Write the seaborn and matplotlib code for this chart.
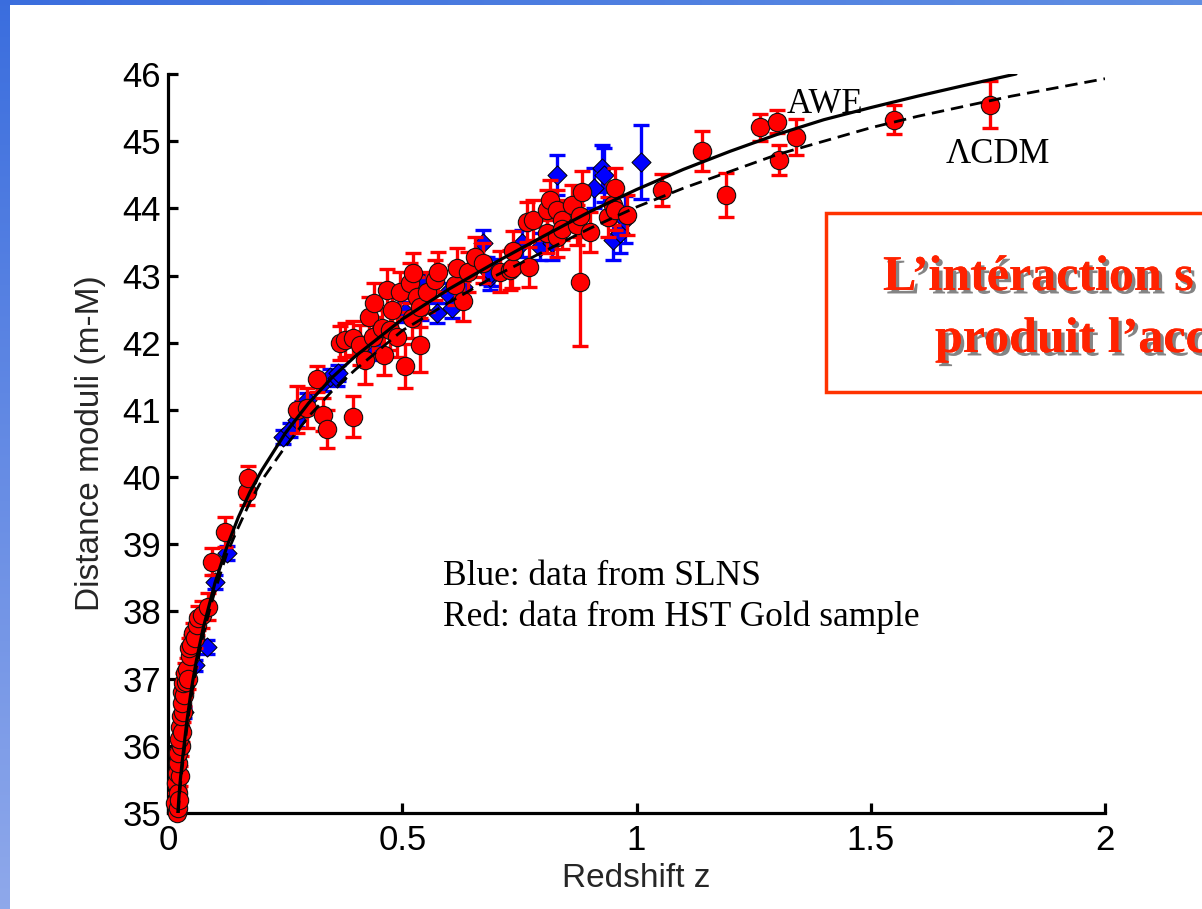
import numpy as np
import pandas as pd
import matplotlib
matplotlib.use("Agg")
import matplotlib.pyplot as plt
import matplotlib.patheffects as pe
from matplotlib.patches import Rectangle
import seaborn as sns

# ---------------- data ----------------
# AWE model (solid)
awe_z = [0.021, 0.025, 0.03, 0.04, 0.05, 0.06, 0.075, 0.09, 0.1, 0.125, 0.15, 0.175, 0.2, 0.25,
         0.3, 0.35, 0.4, 0.5, 0.6, 0.7, 0.8, 0.9, 1.0, 1.1, 1.2, 1.3, 1.4, 1.5, 1.6, 1.7, 1.81]
awe_mu = [35.0, 35.4, 35.75, 36.35, 36.85, 37.25, 37.75, 38.15, 38.42, 38.95, 39.4, 39.78, 40.1, 40.65,
          41.1, 41.48, 41.8, 42.35, 42.8, 43.2, 43.58, 43.95, 44.28, 44.58, 44.85, 45.1, 45.32, 45.5,
          45.67, 45.83, 46.0]

# LambdaCDM model (dashed)
lcdm_z = [0.022, 0.025, 0.03, 0.04, 0.05, 0.06, 0.075, 0.09, 0.1, 0.125, 0.15, 0.175, 0.2, 0.25,
          0.3, 0.35, 0.4, 0.5, 0.6, 0.7, 0.8, 0.9, 1.0, 1.1, 1.2, 1.3, 1.4, 1.5, 1.6, 1.7, 1.8, 1.9, 2.0]
lcdm_mu = [35.0, 35.3, 35.65, 36.25, 36.75, 37.15, 37.65, 38.05, 38.3, 38.85, 39.25, 39.63, 39.95, 40.45,
           40.9, 41.28, 41.6, 42.18, 42.6, 43.0, 43.35, 43.7, 44.02, 44.3, 44.55, 44.8, 45.0, 45.2,
           45.37, 45.52, 45.67, 45.8, 45.93]

# HST Gold sample (red)
red_z = [0.016, 0.018, 0.020, 0.021, 0.021, 0.019, 0.024, 0.025, 0.022, 0.021, 0.028, 0.023, 0.026,
         0.030, 0.027, 0.033, 0.030, 0.029, 0.035, 0.032, 0.038, 0.036, 0.040, 0.043, 0.047, 0.045,
         0.050, 0.053, 0.058, 0.062, 0.065, 0.072, 0.085, 0.094, 0.122, 0.169, 0.171,
         0.275, 0.296, 0.318, 0.331, 0.340, 0.395, 0.367, 0.378, 0.395, 0.410, 0.420, 0.430, 0.438,
         0.440, 0.457, 0.460, 0.467, 0.474, 0.478, 0.489, 0.495, 0.506, 0.516, 0.520, 0.523, 0.531,
         0.538, 0.538, 0.553, 0.570, 0.577, 0.613, 0.617, 0.630, 0.640, 0.655, 0.673, 0.709, 0.730,
         0.735, 0.737, 0.770, 0.766, 0.780, 0.810, 0.815, 0.810, 0.830, 0.830, 0.840, 0.840, 0.862,
         0.873, 0.879, 0.880, 0.884, 0.900, 0.940, 0.950, 0.954, 0.954, 0.980,
         1.054, 1.140, 1.190, 1.264, 1.300, 1.305, 1.340, 1.550, 1.755]
red_mu = [35.15, 35.45, 35.0, 35.07, 35.3, 35.6, 35.2, 35.55, 35.75, 35.9, 36.0, 36.1, 36.28,
          36.2, 36.45, 36.5, 36.64, 36.8, 36.75, 36.94, 36.95, 37.09, 37.15, 37.0, 37.33, 37.45,
          37.5, 37.68, 37.6, 37.8, 37.9, 37.95, 38.07, 38.74, 39.18, 39.78, 39.99,
          41.0, 41.03, 41.46, 40.93, 40.72, 40.9, 42.0, 42.04, 42.07, 41.97, 41.74, 42.38, 42.09,
          42.59, 42.22, 41.82, 42.79, 42.19, 42.49, 42.09, 42.76, 41.65, 42.89, 42.37, 43.04, 42.68,
          41.97, 42.53, 42.76, 42.93, 43.05, 42.86, 43.11, 42.62, 43.05, 43.28, 43.19, 43.06, 43.08,
          43.11, 43.36, 43.13, 43.8, 43.83, 43.98, 44.12, 43.63, 43.98, 43.57, 43.83, 43.7, 44.05,
          43.75, 42.9, 43.88, 44.25, 43.65, 43.87, 44.05, 44.3, 43.98, 43.9,
          44.27, 44.85, 44.2, 45.21, 45.29, 44.72, 45.06, 45.32, 45.54]
red_err = [0.15] * 30 + [0.18, 0.2, 0.2, 0.2, 0.22, 0.2, 0.18,
           0.35, 0.3, 0.2, 0.25, 0.28, 0.3, 0.25, 0.25, 0.25, 0.3, 0.35, 0.3, 0.3,
           0.3, 0.3, 0.3, 0.3, 0.3, 0.3, 0.3, 0.3, 0.33, 0.3, 0.3, 0.3, 0.3,
           0.4, 0.3, 0.3, 0.3, 0.3, 0.3, 0.3, 0.3, 0.3, 0.3, 0.3, 0.3, 0.3,
           0.3, 0.3, 0.3, 0.3, 0.3, 0.3, 0.3, 0.3, 0.3, 0.3, 0.3, 0.3, 0.3,
           0.3, 0.95, 0.3, 0.3, 0.3, 0.3, 0.3, 0.3, 0.3, 0.3,
           0.24, 0.3, 0.33, 0.2, 0.17, 0.22, 0.27, 0.22, 0.35]

# SNLS (blue)
blue_z = [0.035, 0.058, 0.083, 0.100, 0.126, 0.245, 0.260, 0.275, 0.286, 0.296, 0.331, 0.346, 0.360,
          0.363, 0.446, 0.506, 0.540, 0.545, 0.574, 0.595, 0.606, 0.630, 0.672, 0.680, 0.687, 0.690,
          0.755, 0.795, 0.820, 0.830, 0.910, 0.926, 0.930, 0.950, 0.965, 0.975, 1.010]
blue_mu = [36.5, 37.2, 37.47, 38.44, 38.87, 40.6, 40.7, 40.85, 41.04, 41.15, 41.4, 41.49, 41.47,
           41.55, 41.89, 42.46, 42.49, 42.89, 42.44, 42.74, 42.52, 42.83, 43.48, 43.08, 42.98, 43.04,
           43.48, 43.43, 43.48, 44.5, 44.3, 44.6, 44.5, 43.53, 43.63, 43.83, 44.69]
blue_err = [0.08, 0.08, 0.1, 0.1, 0.1, 0.1, 0.1, 0.1, 0.1, 0.1, 0.12, 0.12, 0.12,
            0.12, 0.15, 0.15, 0.15, 0.15, 0.15, 0.15, 0.15, 0.15, 0.2, 0.2, 0.2, 0.2,
            0.2, 0.2, 0.25, 0.3, 0.3, 0.35, 0.4, 0.3, 0.3, 0.35, 0.55]

x_ticks = [0, 0.5, 1, 1.5, 2]
x_ticklabels = ["0", "0.5", "1", "1.5", "2"]
y_ticks = list(range(35, 47))

# ---------------- styling ----------------
sns.set_style("ticks")
plt.rcParams['font.family'] = ['Liberation Sans', 'DejaVu Sans']

W, H = 1202, 909
fig = plt.figure(figsize=(W / 100, H / 100), dpi=100)
fig.patch.set_facecolor("white")

# slide frame (blue gradient border)
bg = fig.add_axes([0, 0, 1, 1], zorder=0)
img = np.ones((H, W, 3))
top_c0 = np.array([0.23, 0.43, 0.87]); top_c1 = np.array([0.38, 0.56, 0.89])
left_c1 = np.array([0.56, 0.66, 0.92])
tx = np.linspace(0, 1, W)[:, None]
img[:5, :, :] = (top_c0 * (1 - tx) + top_c1 * tx)[None, :, :]
ly = np.linspace(0, 1, H)[:, None]
img[:, :10, :] = (top_c0 * (1 - ly) + left_c1 * ly)[:, None, :]
bg.imshow(img, aspect="auto", extent=[0, 1, 0, 1])
bg.axis("off")

ax = fig.add_axes([168 / W, 1 - 813 / H, (1105 - 168) / W, (813 - 74) / H], zorder=1)
ax.set_facecolor("none")

red_df = pd.DataFrame({"z": red_z, "mu": red_mu, "err": red_err})
blue_df = pd.DataFrame({"z": blue_z, "mu": blue_mu, "err": blue_err})

# blue data
ax.errorbar(blue_df["z"], blue_df["mu"], yerr=blue_df["err"], fmt="none", ecolor="#0000ff",
            elinewidth=2.4, capsize=5.5, capthick=2.4, zorder=2)
sns.scatterplot(data=blue_df, x="z", y="mu", ax=ax, marker="D", s=95, color="#0000ff",
                edgecolor="black", linewidth=0.7, zorder=3, clip_on=False)
# red data
ax.errorbar(red_df["z"], red_df["mu"], yerr=red_df["err"], fmt="none", ecolor="#ff0000",
            elinewidth=2.4, capsize=5.5, capthick=2.4, zorder=4)
sns.scatterplot(data=red_df, x="z", y="mu", ax=ax, marker="o", s=175, color="#ff0000",
                edgecolor="#111111", linewidth=0.8, zorder=5, clip_on=False)

# model curves
sns.lineplot(x=awe_z, y=awe_mu, ax=ax, color="black", linewidth=2.3, zorder=6, sort=False)
sns.lineplot(x=lcdm_z, y=lcdm_mu, ax=ax, color="black", linewidth=2.0, linestyle=(0, (4.5, 2.5)),
             zorder=6, sort=False)

ax.set_xlim(0, 2)
ax.set_ylim(35, 46)
ax.set_xticks(x_ticks)
ax.set_xticklabels(x_ticklabels)
ax.set_yticks(y_ticks)
for side in ["top", "right"]:
    ax.spines[side].set_visible(False)
for side in ["left", "bottom"]:
    ax.spines[side].set_linewidth(2.3)
    ax.spines[side].set_color("black")
ax.tick_params(axis="both", direction="in", length=7, width=2.3, labelsize=25, colors="black")
ax.tick_params(axis="x", pad=8)
ax.tick_params(axis="y", pad=5)
ax.set_xlabel("Redshift z", fontsize=24, labelpad=4)
ax.set_ylabel("Distance moduli (m-M)", fontsize=24, labelpad=12)

serif = ["Liberation Serif", "DejaVu Serif"]
ax.text(1.321, 45.42, "AWE", family=serif, fontsize=25, color="black", zorder=7)
ax.text(1.659, 44.68, "ΛCDM", family=serif, fontsize=25, color="black", zorder=7)
ax.text(0.587, 38.40, "Blue: data from SLNS", family=serif, fontsize=25.5, color="black")
ax.text(0.587, 37.78, "Red: data from HST Gold sample", family=serif, fontsize=25.5, color="black")

# red callout box
box = Rectangle((826 / W, 1 - 392 / H), 0.4, (392 - 213) / H, transform=fig.transFigure,
                facecolor="white", edgecolor="#ff3300", linewidth=2.5, zorder=5, clip_on=False)
fig.add_artist(box)
shadow = [pe.withSimplePatchShadow(offset=(2.5, -2.5), shadow_rgbFace="#333333", alpha=0.6),
          pe.Normal()]
fig.text(883 / W, 1 - 290 / H, "L’intéraction s", family=serif, fontweight="bold", fontsize=36,
         color="#ff2200", zorder=6, path_effects=shadow)
fig.text(935 / W, 1 - 352 / H, "produit l’acc", family=serif, fontweight="bold", fontsize=36,
         color="#ff2200", zorder=6, path_effects=shadow)

fig.savefig("out.png", dpi=100)
